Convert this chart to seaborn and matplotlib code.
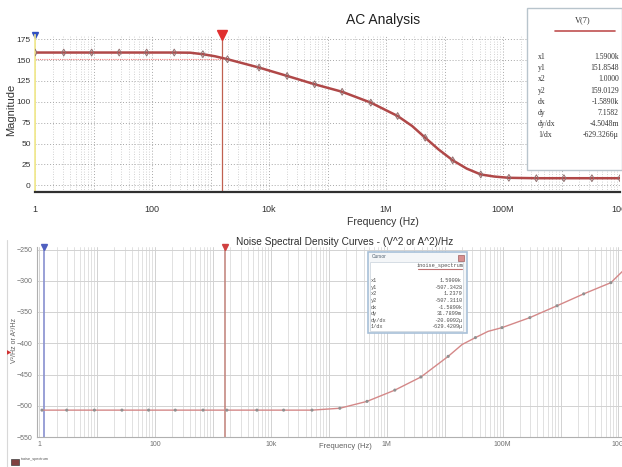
import numpy as np
import matplotlib
matplotlib.use("Agg")
import matplotlib.pyplot as plt
import matplotlib.ticker as mticker
from matplotlib.patches import Rectangle
from matplotlib.lines import Line2D
import seaborn as sns

# --- AC analysis, V(7) magnitude ---
ac_freq = [1, 3.1, 9.3, 27.5, 81, 240, 450, 740, 1200, 1950, 6760, 20400, 60300,
           178000, 550000, 1.58e6, 2.8e6, 4.68e6, 7.9e6, 1.38e7, 2.4e7, 4.17e7,
           7.1e7, 1.26e8, 3.72e8, 1.1e9, 3.31e9, 1e10]
ac_mag = [159, 159, 159, 159, 159, 159, 158.8, 157, 154.5, 151, 141, 131, 121,
          112, 99, 83, 71, 57, 43, 30, 20, 13, 10.5, 9, 8.5, 8.5, 8.5, 8.5]
ac_mark_freq = [1, 3.1, 9.3, 27.5, 81, 240, 740, 1950, 6760, 20400, 60300, 178000,
                550000, 1.58e6, 4.68e6, 1.38e7, 4.17e7, 1.26e8, 3.72e8, 1.1e9, 3.31e9, 1e10]
ac_mark_mag = [159, 159, 159, 159, 159, 159, 157, 151, 141, 131, 121, 112, 99, 83,
               57, 30, 13, 9, 8.5, 8.5, 8.5, 8.5]
ac_cursor_x = [1.0, 1590.0]
ac_cursor_y1 = 151.8548
ac_cursor_names = ["x1", "y1", "x2", "y2", "dx", "dy", "dy/dx", "1/dx"]
ac_cursor_vals = ["1.5900k", "151.8548", "1.0000", "159.0129", "-1.5890k",
                  "7.1582", "-4.5048m", "-629.3266\u00b5"]

# --- noise spectrum ---
nz_freq = [1.12, 3.0, 9.0, 26.9, 77.6, 224, 676, 1740, 5750, 16600, 51300, 155000,
           457000, 1.38e6, 3.89e6, 1.15e7, 2.0e7, 3.39e7, 5.6e7, 9.77e7, 2.95e8,
           8.71e8, 2.51e9, 7.41e9, 1.2e10]
nz_val = [-507, -507, -507, -507, -507, -507, -507, -507, -507, -507, -507, -504,
          -493, -475, -454, -421, -402, -391, -381, -375, -359, -340, -321, -303, -284]
nz_mark_freq = [1.12, 3.0, 9.0, 26.9, 77.6, 224, 676, 1740, 5750, 16600, 51300,
                155000, 457000, 1.38e6, 3.89e6, 1.15e7, 3.39e7, 9.77e7, 2.95e8,
                8.71e8, 2.51e9, 7.41e9]
nz_mark_val = [-507, -507, -507, -507, -507, -507, -507, -507, -507, -507, -507,
               -504, -493, -475, -454, -421, -391, -375, -359, -340, -321, -303]
nz_cursor_x = [1.2379, 1590.0]
nz_cursor_names = ["x1", "y1", "x2", "y2", "dx", "dy", "dy/dx", "1/dx"]
nz_cursor_vals = ["1.5900k", "-507.3428", "1.2379", "-507.3110", "-1.5890k",
                  "31.7899m", "-20.0092\u00b5", "-629.4209\u00b5"]

freq_labels = {0: "1", 2: "100", 4: "10k", 6: "1M", 8: "100M", 10: "10G"}

sns.set_style("white")
plt.rcParams["font.family"] = ["Liberation Sans", "DejaVu Sans"]

W, H = 622, 467
fig = plt.figure(figsize=(6.22, 4.67), dpi=100)


def fx(px):
    return px / W


def fy(py):
    return 1 - py / H


def freq_fmt(v, pos):
    e = int(round(np.log10(v)))
    return freq_labels.get(e, "")


# ================= top: AC analysis =================
ax1 = fig.add_axes([fx(35), fy(192), fx(620 - 35), (192 - 35) / H])
ax1.set_xscale("log")
ax1.set_xlim(1, 1e10)
ax1.set_ylim(-8, 180)

ax1.xaxis.set_major_locator(mticker.LogLocator(base=10, numticks=20))
ax1.xaxis.set_minor_locator(mticker.LogLocator(base=10, subs=np.arange(2, 10), numticks=20))
ax1.xaxis.set_major_formatter(mticker.FuncFormatter(freq_fmt))
ax1.xaxis.set_minor_formatter(mticker.NullFormatter())
ax1.set_yticks([0, 25, 50, 75, 100, 125, 150, 175])
ax1.grid(True, which="major", axis="both", color="#a8a8a8", linestyle=(0, (1, 2)), linewidth=0.7)
ax1.grid(True, which="minor", axis="x", color="#c4c4c4", linestyle=(0, (1, 2)), linewidth=0.6)
for s in ["top", "right"]:
    ax1.spines[s].set_visible(False)
ax1.spines["left"].set_color("#f0e890")
ax1.spines["left"].set_linewidth(1.2)
ax1.spines["bottom"].set_color("#303030")
ax1.spines["bottom"].set_linewidth(1.6)
ax1.tick_params(axis="x", which="major", length=3, color="#303030", labelsize=6.5,
                labelcolor="#333333", pad=6)
ax1.tick_params(axis="x", which="minor", length=2, color="#303030")
ax1.tick_params(axis="y", length=2, labelsize=6, labelcolor="#333333", pad=1)

# cursors
ax1.plot([1, ac_cursor_x[1]], [ac_cursor_y1, ac_cursor_y1], color="#f08080",
         linestyle=(0, (1, 1)), linewidth=0.8)
ax1.axvline(ac_cursor_x[1], color="#c06050", linewidth=0.9)
ax1.axvline(ac_cursor_x[0], color="#f0e890", linewidth=1.2)
ax1.plot([ac_cursor_x[0]], [1.0], marker="v", color="#3050c0", markersize=5,
         transform=ax1.get_xaxis_transform(), clip_on=False)
ax1.plot([ac_cursor_x[1]], [1.0], marker="v", color="#e03030", markersize=7,
         transform=ax1.get_xaxis_transform(), clip_on=False)

sns.lineplot(x=ac_freq, y=ac_mag, ax=ax1, color="#b04848", linewidth=1.8)
sns.scatterplot(x=ac_mark_freq, y=ac_mark_mag, ax=ax1, marker="d", s=12,
                facecolor="none", edgecolor="#907070", linewidth=0.7, zorder=4)
ax1.set_xlabel("")
ax1.set_ylabel("")

fig.text(fx(383), fy(20), "AC Analysis", ha="center", va="center", fontsize=10,
         color="#202020")
fig.text(fx(11), fy(110), "Magnitude", ha="center", va="center", rotation=90,
         fontsize=8, color="#333333")
fig.text(fx(383), fy(222), "Frequency (Hz)", ha="center", va="center", fontsize=7.5,
         color="#333333")

# cursor box (top)
fig.patches.append(Rectangle((fx(527), fy(170)), fx(622 - 527), (170 - 8) / H,
                             transform=fig.transFigure, facecolor="white",
                             edgecolor="#b8c4cc", linewidth=1.0, zorder=5))
fig.text(fx(583), fy(20), "V(7)", ha="center", va="center", fontsize=6,
         family="Liberation Serif", color="#333333", zorder=6)
fig.lines.append(Line2D([fx(555), fx(615)], [fy(31), fy(31)], transform=fig.transFigure,
                        color="#c05050", linewidth=1.2, zorder=6))
for i, (n, v) in enumerate(zip(ac_cursor_names, ac_cursor_vals)):
    yy = fy(57 + i * 11.2)
    fig.text(fx(538), yy, n, ha="left", va="center", fontsize=5.5,
             family="Liberation Serif", color="#333333", zorder=6)
    fig.text(fx(619), yy, v, ha="right", va="center", fontsize=5.5,
             family="Liberation Serif", color="#333333", zorder=6)

# ================= bottom: noise spectrum =================
ax2 = fig.add_axes([fx(37), fy(437), fx(622 - 37), (437 - 247) / H])
ax2.set_xscale("log")
ax2.set_xlim(0.92, 1.15e10)
ax2.set_ylim(-548, -246)
ax2.xaxis.set_major_locator(mticker.LogLocator(base=10, numticks=20))
ax2.xaxis.set_minor_locator(mticker.LogLocator(base=10, subs=np.arange(2, 10), numticks=20))
ax2.xaxis.set_major_formatter(mticker.FuncFormatter(freq_fmt))
ax2.xaxis.set_minor_formatter(mticker.NullFormatter())
ax2.set_yticks([-550, -500, -450, -400, -350, -300, -250])
ax2.grid(True, which="major", axis="both", color="#d2d2d2", linewidth=0.7)
ax2.grid(True, which="minor", axis="x", color="#dcdcdc", linewidth=0.6)
for s in ["top", "right"]:
    ax2.spines[s].set_visible(False)
ax2.spines["left"].set_color("#b0b0b0")
ax2.spines["bottom"].set_color("#b0b0b0")
ax2.tick_params(axis="both", length=0, labelsize=5, labelcolor="#707070", pad=3)

ax2.axvline(nz_cursor_x[0], color="#8890d0", linewidth=1.2)
ax2.axvline(nz_cursor_x[1], color="#c08078", linewidth=1.1)
ax2.plot([nz_cursor_x[0]], [1.0], marker="v", color="#5060c0", markersize=4,
         transform=ax2.get_xaxis_transform(), clip_on=False)
ax2.plot([nz_cursor_x[1]], [1.0], marker="v", color="#d04040", markersize=5,
         transform=ax2.get_xaxis_transform(), clip_on=False)

sns.lineplot(x=nz_freq, y=nz_val, ax=ax2, color="#d48888", linewidth=1.0)
sns.scatterplot(x=nz_mark_freq, y=nz_mark_val, ax=ax2, marker="o", s=5,
                color="#909090", edgecolor="none", zorder=4)
ax2.set_xlabel("")
ax2.set_ylabel("")

fig.text(fx(345), fy(242), "Noise Spectral Density Curves - (V^2 or A^2)/Hz",
         ha="center", va="center", fontsize=7.3, color="#303030")
fig.text(fx(345), fy(447), "Frequency (Hz)", ha="center", va="center", fontsize=5.5,
         color="#606060")
fig.text(fx(15), fy(340), "V\u00b2/Hz or A\u00b2/Hz", ha="center", va="center",
         rotation=90, fontsize=5, color="#606060")
fig.text(fx(9), fy(353), "\u25b6", ha="center", va="center", fontsize=4,
         color="#d03030", family="DejaVu Sans")
fig.lines.append(Line2D([fx(7), fx(7)], [fy(240), fy(467)], transform=fig.transFigure,
                        color="#d8d8d8", linewidth=0.8))

# cursor box (bottom)
fig.patches.append(Rectangle((fx(368), fy(333)), fx(467 - 368), (333 - 252) / H,
                             transform=fig.transFigure, facecolor="#f4f6f8",
                             edgecolor="#a8c0d8", linewidth=1.2, zorder=5))
fig.patches.append(Rectangle((fx(370), fy(333 - 2)), fx(463 - 370), (331 - 262) / H,
                             transform=fig.transFigure, facecolor="white",
                             edgecolor="#d0d8e0", linewidth=0.6, zorder=5))
fig.patches.append(Rectangle((fx(458), fy(261)), fx(6), 6 / H, transform=fig.transFigure,
                             facecolor="#d89090", edgecolor="#a06060", linewidth=0.5, zorder=6))
fig.text(fx(372), fy(257), "Cursor", ha="left", va="center", fontsize=3.5,
         color="#506070", zorder=6)
fig.text(fx(440), fy(266), "inoise_spectrum", ha="center", va="center", fontsize=3.8,
         family="Liberation Mono", color="#505050", zorder=6)
fig.lines.append(Line2D([fx(418), fx(462)], [fy(269), fy(269)], transform=fig.transFigure,
                        color="#c07070", linewidth=0.8, zorder=6))
for i, (n, v) in enumerate(zip(nz_cursor_names, nz_cursor_vals)):
    yy = fy(280.7 + i * 6.6)
    fig.text(fx(371), yy, n, ha="left", va="center", fontsize=3.8,
             family="Liberation Mono", color="#505050", zorder=6)
    fig.text(fx(462), yy, v, ha="right", va="center", fontsize=3.8,
             family="Liberation Mono", color="#505050", zorder=6)

# legend chip bottom-left
fig.patches.append(Rectangle((fx(11), fy(465)), fx(8), 6 / H, transform=fig.transFigure,
                             facecolor="#804040", edgecolor="#404040", linewidth=0.5))
fig.text(fx(21), fy(459), "inoise_spectrum", ha="left", va="center", fontsize=2.8,
         color="#505050")

fig.savefig("out.png", dpi=100, facecolor="white")
